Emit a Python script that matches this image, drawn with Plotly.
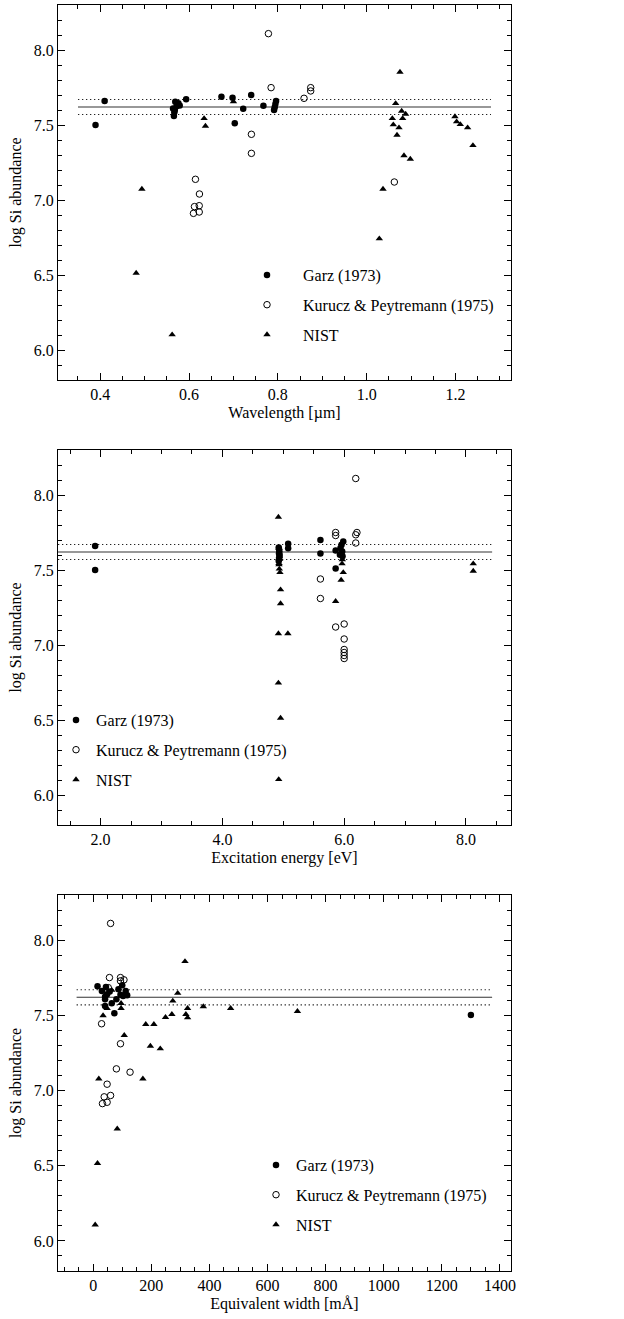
import plotly.graph_objects as go

# ---- mean abundance and its spread ----
MEAN_ABUND = 7.62
SIGMA = 0.05

# ---- Panel 1: abundance vs wavelength [µm] ----
garz_wl = [0.3895, 0.41, 0.564, 0.566, 0.567, 0.568, 0.569, 0.572, 0.576, 0.579,
           0.5935, 0.673, 0.698, 0.703, 0.722, 0.740, 0.7675, 0.7915, 0.793, 0.7945, 0.796]
garz_wl_ab = [7.50, 7.66, 7.61, 7.56, 7.585, 7.60, 7.655, 7.625, 7.645, 7.63,
              7.671, 7.689, 7.682, 7.511, 7.609, 7.70, 7.629, 7.60, 7.618, 7.64, 7.66]

kp_wl = [0.7788, 0.7848, 0.859, 0.874, 0.874, 0.7405, 0.7405, 0.6145, 0.6235,
         0.6123, 0.623, 0.610, 0.623, 1.0623]
kp_wl_ab = [8.109, 7.749, 7.678, 7.749, 7.727, 7.438, 7.311, 7.138, 7.04,
            6.956, 6.962, 6.911, 6.92, 7.12]

nist_wl = [0.481, 0.4938, 0.562, 0.634, 0.637, 0.700, 1.0285, 1.0368, 1.0578, 1.060,
           1.0653, 1.0683, 1.0728, 1.075, 1.0788, 1.081, 1.084, 1.0878, 1.0983,
           1.1988, 1.2025, 1.2108, 1.2273, 1.2393]
nist_wl_ab = [6.513, 7.073, 6.102, 7.544, 7.493, 7.656, 6.742, 7.073, 7.544, 7.502,
              7.644, 7.433, 7.482, 7.853, 7.593, 7.544, 7.296, 7.573, 7.273,
              7.556, 7.522, 7.504, 7.482, 7.364]

# ---- Panel 2: abundance vs excitation energy [eV] ----
garz_ex = [1.91, 1.91, 4.925, 4.93, 4.935, 4.93, 4.94, 4.935, 4.93, 4.925,
           5.08, 5.08, 5.61, 5.61, 5.86, 5.86, 5.985, 5.957, 5.94, 5.968, 5.93, 5.973]
garz_ex_ab = [7.66, 7.50, 7.65, 7.64, 7.625, 7.61, 7.60, 7.585, 7.57, 7.56,
              7.675, 7.645, 7.70, 7.61, 7.63, 7.51, 7.69, 7.669, 7.647, 7.624, 7.602, 7.591]

kp_ex = [5.61, 5.61, 5.86, 5.86, 5.86, 6.0, 6.0, 6.0, 6.0, 6.0, 6.0, 6.19, 6.19, 6.21, 6.19]
kp_ex_ab = [7.44, 7.31, 7.75, 7.73, 7.12, 7.14, 7.04, 6.97, 6.95, 6.93, 6.91,
            8.11, 7.735, 7.75, 7.68]

nist_ex = [4.92, 4.93, 4.935, 4.945, 4.955, 4.955, 4.92, 5.075, 4.92, 4.955, 4.925,
           4.93, 4.935, 4.94, 4.93, 5.86, 5.95, 5.985, 5.965, 5.97, 8.12, 8.12]
nist_ex_ab = [7.853, 7.536, 7.507, 7.484, 7.369, 7.276, 7.076, 7.076, 6.747, 6.513, 6.104,
              7.644, 7.593, 7.573, 7.544, 7.291, 7.433, 7.484, 7.542, 7.57, 7.542, 7.493]

# ---- Panel 3: abundance vs equivalent width [mÅ] ----
garz_ew = [15, 30, 44, 41, 41, 41, 48, 57, 64, 73, 80, 87, 94, 100, 103, 112, 117, 1300]
garz_ew_ab = [7.693, 7.662, 7.689, 7.624, 7.607, 7.562, 7.64, 7.658, 7.58, 7.513,
              7.607, 7.673, 7.636, 7.70, 7.629, 7.662, 7.633, 7.502]

kp_ew = [60, 56, 52, 94, 94, 106, 29, 94, 80, 127, 48, 38, 60, 32, 48]
kp_ew_ab = [8.111, 7.751, 7.684, 7.751, 7.729, 7.736, 7.444, 7.311, 7.144, 7.122,
            7.042, 6.958, 6.967, 6.913, 6.922]

nist_ew = [7, 15, 83, 19.5, 171, 34, 48, 64, 96, 96, 107, 181, 197, 209, 231, 249,
           271, 274, 291, 316, 319, 325, 325, 379, 473, 703]
nist_ew_ab = [6.107, 6.516, 6.745, 7.078, 7.078, 7.498, 7.547, 7.667, 7.58, 7.547,
              7.367, 7.44, 7.296, 7.44, 7.278, 7.487, 7.507, 7.596, 7.647, 7.858,
              7.507, 7.547, 7.484, 7.558, 7.547, 7.527]

# extents of the mean / ±sigma lines in each panel
mean_span_wl = [0.35, 1.28]
mean_span_ex = [1.30, 8.43]
mean_span_ew = [-57, 1373]

SERIES_NAMES = ["Garz (1973)", "Kurucz & Peytremann (1975)", "NIST"]

FONT = "Liberation Serif"

panels = [
    dict(ax="", garz=(garz_wl, garz_wl_ab), kp=(kp_wl, kp_wl_ab), nist=(nist_wl, nist_wl_ab),
         span=mean_span_wl, legend="legend"),
    dict(ax="2", garz=(garz_ex, garz_ex_ab), kp=(kp_ex, kp_ex_ab), nist=(nist_ex, nist_ex_ab),
         span=mean_span_ex, legend="legend2"),
    dict(ax="3", garz=(garz_ew, garz_ew_ab), kp=(kp_ew, kp_ew_ab), nist=(nist_ew, nist_ew_ab),
         span=mean_span_ew, legend="legend3"),
]

fig = go.Figure()

for i, p in enumerate(panels):
    xa, ya = "x" + p["ax"], "y" + p["ax"]
    span = p["span"]
    # mean abundance (solid) and ±sigma (dotted)
    for level, dash, col in [(MEAN_ABUND, "solid", "#333333"),
                             (MEAN_ABUND + SIGMA, "1.3px,2.7px", "#222222"),
                             (MEAN_ABUND - SIGMA, "1.3px,2.7px", "#222222")]:
        fig.add_trace(go.Scatter(x=span, y=[level, level], mode="lines", xaxis=xa, yaxis=ya,
                                 line=dict(color=col, width=1.2, dash=dash),
                                 showlegend=False, hoverinfo="skip"))
    fig.add_trace(go.Scatter(x=p["garz"][0], y=p["garz"][1], mode="markers", name=SERIES_NAMES[0],
                             xaxis=xa, yaxis=ya, legend=p["legend"], legendgroup=f"g{i}a",
                             marker=dict(symbol="circle", size=6.5, color="black",
                                         line=dict(width=0))))
    fig.add_trace(go.Scatter(x=p["kp"][0], y=p["kp"][1], mode="markers", name=SERIES_NAMES[1],
                             xaxis=xa, yaxis=ya, legend=p["legend"], legendgroup=f"g{i}b",
                             marker=dict(symbol="circle-open", size=6.5, color="black",
                                         line=dict(width=1, color="black"))))
    fig.add_trace(go.Scatter(x=p["nist"][0], y=p["nist"][1], mode="markers", name=SERIES_NAMES[2],
                             xaxis=xa, yaxis=ya, legend=p["legend"], legendgroup=f"g{i}c",
                             marker=dict(symbol="triangle-up", size=6.5, color="black",
                                         line=dict(width=0))))

# layout geometry (pixels)
W, H = 624, 1319
ML, MR, MT, MB = 58, 113, 5, 48
plot_h = H - MT - MB


def ydom(top_px, bottom_px):
    return [(H - MB - bottom_px) / plot_h, (H - MB - top_px) / plot_h]


tick_font = dict(family=FONT, size=16, color="black")
title_font = dict(family=FONT, size=16, color="black")

common_axis = dict(showline=True, linecolor="black", linewidth=1.3, mirror="allticks",
                   ticks="inside", ticklen=7, tickwidth=1, tickcolor="black",
                   showgrid=False, zeroline=False, tickfont=tick_font,
                   minor=dict(ticks="inside", ticklen=3.5, tickwidth=1, tickcolor="black",
                              showgrid=False))

yaxis_common = dict(common_axis, range=[5.8, 8.3], tick0=0, dtick=0.5, tickformat=".1f",
                    title=dict(text="log Si abundance", font=title_font, standoff=8))
yaxis_common["minor"] = dict(common_axis["minor"], dtick=0.1)

doms = [ydom(5, 380), ydom(450, 825), ydom(895, 1271)]

layout = dict(
    width=W, height=H, margin=dict(l=ML, r=MR, t=MT, b=MB),
    paper_bgcolor="white", plot_bgcolor="white",
    font=dict(family=FONT, size=16, color="black"),
    xaxis=dict(common_axis, domain=[0, 1], anchor="y", range=[0.305, 1.325], tick0=0, dtick=0.2,
               tickformat=".1f", minor=dict(common_axis["minor"], dtick=0.05),
               title=dict(text="Wavelength [µm]", font=title_font, standoff=4)),
    yaxis=dict(yaxis_common, domain=doms[0], anchor="x"),
    xaxis2=dict(common_axis, domain=[0, 1], anchor="y2", range=[1.30, 8.74], tick0=0, dtick=2,
                tickformat=".1f", minor=dict(common_axis["minor"], dtick=0.5),
                title=dict(text="Excitation energy [eV]", font=title_font, standoff=4)),
    yaxis2=dict(yaxis_common, domain=doms[1], anchor="x2"),
    xaxis3=dict(common_axis, domain=[0, 1], anchor="y3", range=[-121, 1438], tick0=0, dtick=200,
                tickformat="d", minor=dict(common_axis["minor"], dtick=50),
                title=dict(text="Equivalent width [mÅ]", font=title_font, standoff=4)),
    yaxis3=dict(yaxis_common, domain=doms[2], anchor="x3"),
)

W_plot = W - ML - MR


def legend_box(left_px, top_px, itemwidth):
    return dict(x=(left_px - ML) / W_plot, y=(H - MB - top_px) / plot_h,
                xanchor="left", yanchor="top", bgcolor="rgba(0,0,0,0)", borderwidth=0,
                font=dict(family=FONT, size=16, color="black"), itemwidth=itemwidth,
                tracegroupgap=6, groupclick="toggleitem")


layout["legend"] = legend_box(231, 258, 62)
layout["legend2"] = legend_box(56, 703, 30)
layout["legend3"] = legend_box(256, 1148, 30)

fig.update_layout(**layout)
fig.write_html("out.html")
